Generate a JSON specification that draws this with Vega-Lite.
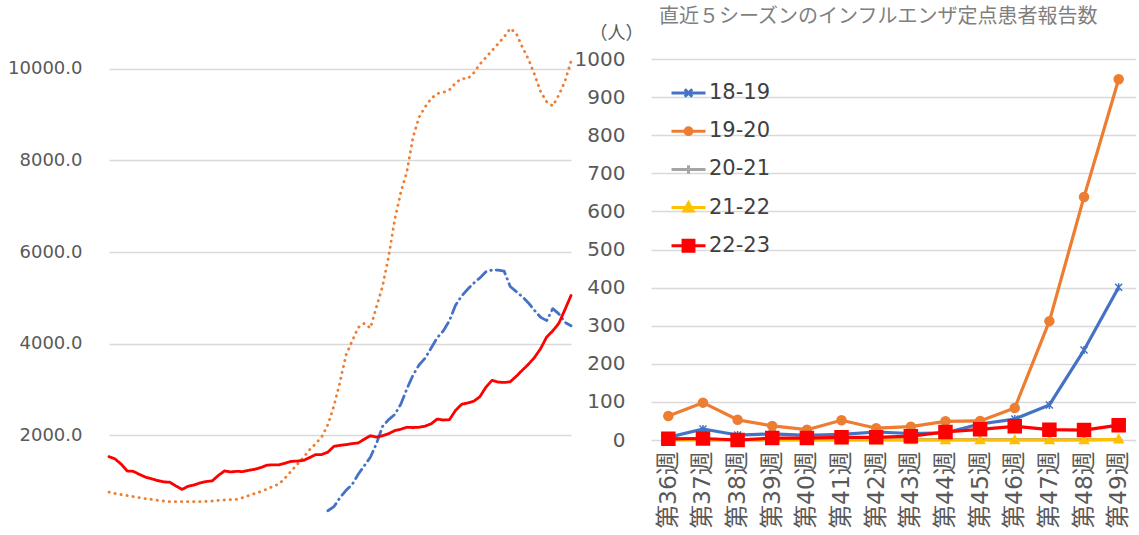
{
"$schema": "https://vega.github.io/schema/vega-lite/v6.json",
"background": "white",
"padding": {"left": 7, "top": 7, "right": 0, "bottom": 0},
"spacing": 1,
"config": {"view": {"stroke": null}, "font": "DejaVu Sans"},
"resolve": {"scale": {"color": "independent", "strokeDash": "independent"}},
"datasets": {
"left": [
{"s":"L1","i":0,"v":761},{"s":"L1","i":1,"v":731},{"s":"L1","i":2,"v":708},{"s":"L1","i":3,"v":686},{"s":"L1","i":4,"v":664},{"s":"L1","i":5,"v":641},{"s":"L1","i":6,"v":619},{"s":"L1","i":7,"v":604},{"s":"L1","i":8,"v":582},{"s":"L1","i":9,"v":567},
{"s":"L1","i":10,"v":552},{"s":"L1","i":11,"v":552},{"s":"L1","i":12,"v":552},{"s":"L1","i":13,"v":552},{"s":"L1","i":14,"v":552},{"s":"L1","i":15,"v":552},{"s":"L1","i":16,"v":559},{"s":"L1","i":17,"v":567},{"s":"L1","i":18,"v":582},{"s":"L1","i":19,"v":589},
{"s":"L1","i":20,"v":597},{"s":"L1","i":21,"v":604},{"s":"L1","i":22,"v":641},{"s":"L1","i":23,"v":686},{"s":"L1","i":24,"v":731},{"s":"L1","i":25,"v":776},{"s":"L1","i":26,"v":828},{"s":"L1","i":27,"v":887},{"s":"L1","i":28,"v":940},{"s":"L1","i":29,"v":1074},
{"s":"L1","i":30,"v":1223},{"s":"L1","i":31,"v":1372},{"s":"L1","i":32,"v":1521},{"s":"L1","i":33,"v":1685},{"s":"L1","i":34,"v":1820},{"s":"L1","i":35,"v":1969},{"s":"L1","i":36,"v":2230},{"s":"L1","i":37,"v":2640},{"s":"L1","i":38,"v":3162},{"s":"L1","i":39,"v":3758},
{"s":"L1","i":40,"v":4057},{"s":"L1","i":41,"v":4355},{"s":"L1","i":42,"v":4444},{"s":"L1","i":43,"v":4340},{"s":"L1","i":44,"v":4802},{"s":"L1","i":45,"v":5250},{"s":"L1","i":46,"v":5900},{"s":"L1","i":47,"v":6700},{"s":"L1","i":48,"v":7300},{"s":"L1","i":49,"v":7750},
{"s":"L1","i":50,"v":8500},{"s":"L1","i":51,"v":8941},{"s":"L1","i":52,"v":9165},{"s":"L1","i":53,"v":9351},{"s":"L1","i":54,"v":9456},{"s":"L1","i":55,"v":9485},{"s":"L1","i":56,"v":9537},{"s":"L1","i":57,"v":9687},{"s":"L1","i":58,"v":9784},{"s":"L1","i":59,"v":9784},
{"s":"L1","i":60,"v":9910},{"s":"L1","i":61,"v":10097},{"s":"L1","i":62,"v":10246},{"s":"L1","i":63,"v":10395},{"s":"L1","i":64,"v":10544},{"s":"L1","i":65,"v":10693},{"s":"L1","i":66,"v":10880},{"s":"L1","i":67,"v":10768},{"s":"L1","i":68,"v":10470},{"s":"L1","i":69,"v":10209},
{"s":"L1","i":70,"v":9873},{"s":"L1","i":71,"v":9500},{"s":"L1","i":72,"v":9277},{"s":"L1","i":73,"v":9188},{"s":"L1","i":74,"v":9426},{"s":"L1","i":75,"v":9724},{"s":"L1","i":76,"v":10160},
{"s":"L2","i":36,"v":354},{"s":"L2","i":37,"v":443},{"s":"L2","i":38,"v":640},{"s":"L2","i":39,"v":800},{"s":"L2","i":40,"v":927},{"s":"L2","i":41,"v":1151},{"s":"L2","i":42,"v":1337},{"s":"L2","i":43,"v":1523},{"s":"L2","i":44,"v":1821},{"s":"L2","i":45,"v":2194},
{"s":"L2","i":46,"v":2343},{"s":"L2","i":47,"v":2455},{"s":"L2","i":48,"v":2678},{"s":"L2","i":49,"v":3013},{"s":"L2","i":50,"v":3311},{"s":"L2","i":51,"v":3535},{"s":"L2","i":52,"v":3684},{"s":"L2","i":53,"v":3907},{"s":"L2","i":54,"v":4131},{"s":"L2","i":55,"v":4280},
{"s":"L2","i":56,"v":4503},{"s":"L2","i":57,"v":4838},{"s":"L2","i":58,"v":5039},{"s":"L2","i":59,"v":5188},{"s":"L2","i":60,"v":5322},{"s":"L2","i":61,"v":5434},{"s":"L2","i":62,"v":5568},{"s":"L2","i":63,"v":5606},{"s":"L2","i":64,"v":5606},{"s":"L2","i":65,"v":5583},
{"s":"L2","i":66,"v":5248},{"s":"L2","i":67,"v":5136},{"s":"L2","i":68,"v":5024},{"s":"L2","i":69,"v":4890},{"s":"L2","i":70,"v":4726},{"s":"L2","i":71,"v":4577},{"s":"L2","i":72,"v":4503},{"s":"L2","i":73,"v":4764},{"s":"L2","i":74,"v":4652},{"s":"L2","i":75,"v":4466},{"s":"L2","i":76,"v":4391},
{"s":"L3","i":0,"v":1536},{"s":"L3","i":1,"v":1484},{"s":"L3","i":2,"v":1372},{"s":"L3","i":3,"v":1223},{"s":"L3","i":4,"v":1215},{"s":"L3","i":5,"v":1148},{"s":"L3","i":6,"v":1089},{"s":"L3","i":7,"v":1051},{"s":"L3","i":8,"v":1014},{"s":"L3","i":9,"v":984},
{"s":"L3","i":10,"v":977},{"s":"L3","i":11,"v":895},{"s":"L3","i":12,"v":820},{"s":"L3","i":13,"v":887},{"s":"L3","i":14,"v":917},{"s":"L3","i":15,"v":962},{"s":"L3","i":16,"v":992},{"s":"L3","i":17,"v":1007},{"s":"L3","i":18,"v":1126},{"s":"L3","i":19,"v":1223},
{"s":"L3","i":20,"v":1201},{"s":"L3","i":21,"v":1215},{"s":"L3","i":22,"v":1208},{"s":"L3","i":23,"v":1238},{"s":"L3","i":24,"v":1260},{"s":"L3","i":25,"v":1298},{"s":"L3","i":26,"v":1350},{"s":"L3","i":27,"v":1357},{"s":"L3","i":28,"v":1357},{"s":"L3","i":29,"v":1394},
{"s":"L3","i":30,"v":1432},{"s":"L3","i":31,"v":1439},{"s":"L3","i":32,"v":1454},{"s":"L3","i":33,"v":1514},{"s":"L3","i":34,"v":1581},{"s":"L3","i":35,"v":1581},{"s":"L3","i":36,"v":1633},{"s":"L3","i":37,"v":1760},{"s":"L3","i":38,"v":1782},{"s":"L3","i":39,"v":1797},
{"s":"L3","i":40,"v":1820},{"s":"L3","i":41,"v":1834},{"s":"L3","i":42,"v":1916},{"s":"L3","i":43,"v":1991},{"s":"L3","i":44,"v":1961},{"s":"L3","i":45,"v":1991},{"s":"L3","i":46,"v":2036},{"s":"L3","i":47,"v":2103},{"s":"L3","i":48,"v":2133},{"s":"L3","i":49,"v":2177},
{"s":"L3","i":50,"v":2170},{"s":"L3","i":51,"v":2177},{"s":"L3","i":52,"v":2200},{"s":"L3","i":53,"v":2252},{"s":"L3","i":54,"v":2356},{"s":"L3","i":55,"v":2334},{"s":"L3","i":56,"v":2341},{"s":"L3","i":57,"v":2543},{"s":"L3","i":58,"v":2677},{"s":"L3","i":59,"v":2707},
{"s":"L3","i":60,"v":2744},{"s":"L3","i":61,"v":2841},{"s":"L3","i":62,"v":3050},{"s":"L3","i":63,"v":3199},{"s":"L3","i":64,"v":3162},{"s":"L3","i":65,"v":3154},{"s":"L3","i":66,"v":3169},{"s":"L3","i":67,"v":3289},{"s":"L3","i":68,"v":3423},{"s":"L3","i":69,"v":3550},
{"s":"L3","i":70,"v":3699},{"s":"L3","i":71,"v":3893},{"s":"L3","i":72,"v":4146},{"s":"L3","i":73,"v":4280},{"s":"L3","i":74,"v":4444},{"s":"L3","i":75,"v":4743},{"s":"L3","i":76,"v":5050}
],
"right": [
{"wk":"第36週","s":"18-19","v":7},{"wk":"第37週","s":"18-19","v":29},{"wk":"第38週","s":"18-19","v":13},{"wk":"第39週","s":"18-19","v":16},{"wk":"第40週","s":"18-19","v":12},{"wk":"第41週","s":"18-19","v":15},{"wk":"第42週","s":"18-19","v":21},{"wk":"第43週","s":"18-19","v":17},{"wk":"第44週","s":"18-19","v":19},{"wk":"第45週","s":"18-19","v":42},{"wk":"第46週","s":"18-19","v":55},{"wk":"第47週","s":"18-19","v":92},{"wk":"第48週","s":"18-19","v":236},{"wk":"第49週","s":"18-19","v":401},
{"wk":"第36週","s":"19-20","v":63},{"wk":"第37週","s":"19-20","v":98},{"wk":"第38週","s":"19-20","v":53},{"wk":"第39週","s":"19-20","v":37},{"wk":"第40週","s":"19-20","v":27},{"wk":"第41週","s":"19-20","v":52},{"wk":"第42週","s":"19-20","v":31},{"wk":"第43週","s":"19-20","v":35},{"wk":"第44週","s":"19-20","v":49},{"wk":"第45週","s":"19-20","v":50},{"wk":"第46週","s":"19-20","v":84},{"wk":"第47週","s":"19-20","v":312},{"wk":"第48週","s":"19-20","v":638},{"wk":"第49週","s":"19-20","v":947},
{"wk":"第36週","s":"20-21","v":2},{"wk":"第37週","s":"20-21","v":1},{"wk":"第38週","s":"20-21","v":1},{"wk":"第39週","s":"20-21","v":1},{"wk":"第40週","s":"20-21","v":1},{"wk":"第41週","s":"20-21","v":1},{"wk":"第42週","s":"20-21","v":1},{"wk":"第43週","s":"20-21","v":1},{"wk":"第44週","s":"20-21","v":1},{"wk":"第45週","s":"20-21","v":1},{"wk":"第46週","s":"20-21","v":1},{"wk":"第47週","s":"20-21","v":1},{"wk":"第48週","s":"20-21","v":1},{"wk":"第49週","s":"20-21","v":1},
{"wk":"第36週","s":"21-22","v":0},{"wk":"第37週","s":"21-22","v":0},{"wk":"第38週","s":"21-22","v":0},{"wk":"第39週","s":"21-22","v":0},{"wk":"第40週","s":"21-22","v":0},{"wk":"第41週","s":"21-22","v":0},{"wk":"第42週","s":"21-22","v":0},{"wk":"第43週","s":"21-22","v":0},{"wk":"第44週","s":"21-22","v":0},{"wk":"第45週","s":"21-22","v":0},{"wk":"第46週","s":"21-22","v":0},{"wk":"第47週","s":"21-22","v":0},{"wk":"第48週","s":"21-22","v":0},{"wk":"第49週","s":"21-22","v":2},
{"wk":"第36週","s":"22-23","v":3},{"wk":"第37週","s":"22-23","v":4},{"wk":"第38週","s":"22-23","v":0},{"wk":"第39週","s":"22-23","v":5},{"wk":"第40週","s":"22-23","v":5},{"wk":"第41週","s":"22-23","v":7},{"wk":"第42週","s":"22-23","v":7},{"wk":"第43週","s":"22-23","v":10},{"wk":"第44週","s":"22-23","v":21},{"wk":"第45週","s":"22-23","v":28},{"wk":"第46週","s":"22-23","v":36},{"wk":"第47週","s":"22-23","v":27},{"wk":"第48週","s":"22-23","v":26},{"wk":"第49週","s":"22-23","v":39}
]
},
"hconcat": [
{
"width": 462,
"height": 468,
"data": {"name": "left"},
"mark": {"type": "line", "strokeWidth": 2.8, "strokeCap": "round", "strokeJoin": "round"},
"encoding": {
"x": {"field": "i", "type": "quantitative", "scale": {"domain": [0, 76], "nice": false, "zero": false}, "axis": null},
"y": {"field": "v", "type": "quantitative", "scale": {"domain": [0, 10212], "nice": false},
"axis": {"values": [2000, 4000, 6000, 8000, 10000], "format": ".1f", "title": null, "labelFont": "DejaVu Sans", "labelFontSize": 18, "labelColor": "#595959", "labelPadding": 27, "domain": false, "ticks": false, "gridColor": "#D9D9D9", "gridWidth": 1.3}},
"color": {"field": "s", "type": "nominal", "scale": {"domain": ["L1", "L2", "L3"], "range": ["#ED7D31", "#4472C4", "#FF0000"]}, "legend": null},
"strokeDash": {"field": "s", "type": "nominal", "scale": {"domain": ["L1", "L2", "L3"], "range": [[0.3, 5.8], [11, 5, 0.5, 5], [1, 0]]}, "legend": null}
}
},
{
"width": 485,
"height": 381,
"data": {"name": "right"},
"title": {"text": "直近５シーズンのインフルエンザ定点患者報告数", "anchor": "start", "frame": "group", "dx": 8, "offset": -3, "font": "Noto Sans CJK JP", "fontSize": 20, "fontWeight": "normal", "color": "#7F7F7F"},
"encoding": {
"x": {"field": "wk", "type": "ordinal", "sort": null, "scale": {"type": "point", "padding": 0.5},
"axis": {"title": null, "labelAngle": -90, "labelAlign": "right", "labelBaseline": "middle", "labelFont": "'DejaVu Sans', 'Noto Sans CJK JP'", "labelFontSize": 23.5, "labelColor": "#595959", "labelPadding": 11, "ticks": false, "domain": false, "grid": false}},
"y": {"field": "v", "type": "quantitative", "scale": {"domain": [0, 1000], "nice": false},
"axis": {"values": [0, 100, 200, 300, 400, 500, 600, 700, 800, 900, 1000], "format": "d", "title": "（人）", "titleAngle": 0, "titleX": -35, "titleY": -26, "titleAlign": "center", "titleBaseline": "middle", "titleFont": "Noto Sans CJK JP", "titleFontSize": 18, "titleFontWeight": "normal", "titleColor": "#595959", "labelFont": "DejaVu Sans", "labelFontSize": 20, "labelColor": "#595959", "labelPadding": 26, "domain": false, "ticks": false, "gridColor": "#D9D9D9", "gridWidth": 1.3}},
"color": {"field": "s", "type": "nominal", "scale": {"domain": ["18-19", "19-20", "20-21", "21-22", "22-23"], "range": ["#4472C4", "#ED7D31", "#A5A5A5", "#FFC000", "#FF0000"]},
"legend": {"title": null, "orient": "none", "legendX": 19, "legendY": 15.5, "padding": 0, "labelFont": "DejaVu Sans", "labelFontSize": 21, "labelColor": "#404040", "symbolSize": 1156, "labelOffset": 2, "rowPadding": 9.2,
"encode": {"symbols": {"update": {
"shape": {"signal": "datum.value === '18-19' ? 'M-1,0L1,0M-0.22,-0.22L0.22,0.22M-0.22,0.22L0.22,-0.22' : datum.value === '19-20' ? 'M-1,0L1,0M0.2,0A0.2,0.2,0,1,1,-0.2,0A0.2,0.2,0,1,1,0.2,0Z' : datum.value === '20-21' ? 'M-1,0L1,0M0,-0.25L0,0.25' : datum.value === '21-22' ? 'M-1,0L1,0M0,-0.28L0.27,0.2L-0.27,0.2Z' : 'M-1,0L1,0M-0.32,-0.32L0.32,-0.32L0.32,0.32L-0.32,0.32Z'"},
"fill": {"signal": "datum.value === '18-19' ? '#4472C4' : datum.value === '19-20' ? '#ED7D31' : datum.value === '20-21' ? '#A5A5A5' : datum.value === '21-22' ? '#FFC000' : '#FF0000'"},
"stroke": {"signal": "datum.value === '18-19' ? '#4472C4' : datum.value === '19-20' ? '#ED7D31' : datum.value === '20-21' ? '#A5A5A5' : datum.value === '21-22' ? '#FFC000' : '#FF0000'"},
"strokeWidth": {"value": 3},
"strokeDash": {"value": []},
"opacity": {"value": 1}
}}}}
}
},
"layer": [
{"mark": {"type": "line", "strokeWidth": 3.2, "strokeJoin": "round"}},
{"transform": [{"filter": "datum.s === '18-19'"}], "mark": {"type": "point", "filled": true, "size": 400, "strokeWidth": 1.5, "opacity": 1, "stroke": "#4472C4", "shape": "M-0.35,-0.35L0.35,0.35M-0.35,0.35L0.35,-0.35M0,-0.4L0,0.4"}},
{"transform": [{"filter": "datum.s === '19-20'"}], "mark": {"type": "point", "filled": true, "size": 400, "strokeWidth": 1.5, "opacity": 1, "stroke": "#ED7D31", "shape": "M0.45,0A0.45,0.45,0,1,1,-0.45,0A0.45,0.45,0,1,1,0.45,0Z"}},
{"transform": [{"filter": "datum.s === '20-21'"}], "mark": {"type": "point", "filled": true, "size": 400, "strokeWidth": 1.5, "opacity": 1, "stroke": "#A5A5A5", "shape": "M-0.4,0L0.4,0M0,-0.4L0,0.4"}},
{"transform": [{"filter": "datum.s === '21-22'"}], "mark": {"type": "point", "filled": true, "size": 400, "strokeWidth": 1.5, "opacity": 1, "stroke": "#FFC000", "shape": "M0,-0.45L0.45,0.35L-0.45,0.35Z"}},
{"transform": [{"filter": "datum.s === '22-23'"}], "mark": {"type": "point", "filled": true, "size": 400, "strokeWidth": 1.5, "opacity": 1, "stroke": "#FF0000", "shape": "M-0.65,-0.65L0.65,-0.65L0.65,0.65L-0.65,0.65Z"}}
]
}
]
}
